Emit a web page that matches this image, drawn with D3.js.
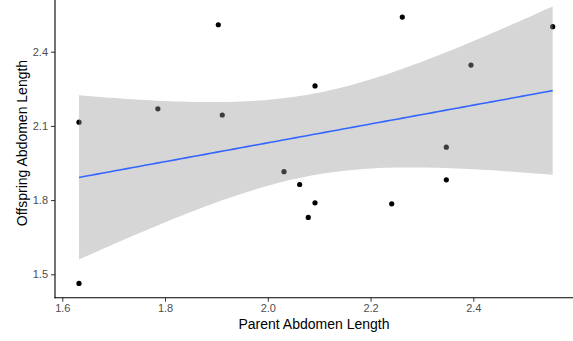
<!DOCTYPE html>
<html>
<head>
<meta charset="utf-8">
<script src="https://cdn.jsdelivr.net/npm/d3@7"></script>
<style>
  body { margin: 0; background: #fff; }
  text { font-family: "Liberation Sans", Arial, sans-serif; }
</style>
</head>
<body>
<div id="chart"></div>
<script>
// Width and height
var chart_width  = 573;
var chart_height = 341;

// data
var parent_length    = [1.6325, 1.786, 1.9037, 1.9114, 2.0919, 2.2618, 2.3955, 2.5545,
                        2.3475, 2.0315, 2.062, 2.0919, 2.0788, 2.2412, 2.3475, 1.6325];
var offspring_length = [2.115, 2.169, 2.509, 2.144, 2.2615, 2.540, 2.346, 2.501,
                        2.014, 1.915, 1.863, 1.789, 1.730, 1.785, 1.882, 1.463];
var x_ticks = [1.6, 1.8, 2.0, 2.2, 2.4];
var y_ticks = [1.5, 1.8, 2.1, 2.4];

var points = parent_length.map(function(d, i){
  return { x: d, y: offspring_length[i] };
});

// scales
var x = d3.scaleLinear().domain([1.6, 2.4]).range([62.3, 473.3]);
var y = d3.scaleLinear().domain([1.5, 2.4]).range([274.3, 51.7]);

var panel_left = 55, panel_bottom = 297.7;

// linear model + 95% confidence band (like geom_smooth(method = "lm"))
var n = points.length;
var mx = d3.mean(points, function(d){ return d.x; });
var my = d3.mean(points, function(d){ return d.y; });
var sxx = d3.sum(points, function(d){ return (d.x - mx) * (d.x - mx); });
var sxy = d3.sum(points, function(d){ return (d.x - mx) * (d.y - my); });
var slope = sxy / sxx;
var intercept = my - slope * mx;
var sse = d3.sum(points, function(d){
  var r = d.y - (intercept + slope * d.x);
  return r * r;
});
var s = Math.sqrt(sse / (n - 2));
var t_crit = 2.1448; // qt(0.975, 14)

var xmin = d3.min(parent_length), xmax = d3.max(parent_length);
var fit = d3.range(80).map(function(i){
  var xv = xmin + (xmax - xmin) * i / 79;
  var yv = intercept + slope * xv;
  var se = s * Math.sqrt(1 / n + (xv - mx) * (xv - mx) / sxx);
  return { x: xv, y: yv, lo: yv - t_crit * se, hi: yv + t_crit * se };
});

// Create SVG
var svg = d3.select("#chart")
  .append("svg")
  .attr("width", chart_width)
  .attr("height", chart_height);

// points
svg.selectAll("circle")
  .data(points)
  .enter()
  .append("circle")
  .attr("cx", function(d){ return x(d.x); })
  .attr("cy", function(d){ return y(d.y); })
  .attr("r", 2.6)
  .attr("fill", "#000");

// ribbon
var area = d3.area()
  .x(function(d){ return x(d.x); })
  .y0(function(d){ return y(d.lo); })
  .y1(function(d){ return y(d.hi); });

svg.append("path")
  .datum(fit)
  .attr("d", area)
  .attr("fill", "#999999")
  .attr("fill-opacity", 0.4);

// fitted line
var line = d3.line()
  .x(function(d){ return x(d.x); })
  .y(function(d){ return y(d.y); });

svg.append("path")
  .datum(fit)
  .attr("d", line)
  .attr("fill", "none")
  .attr("stroke", "#3366FF")
  .attr("stroke-width", 1.6);

// axes
var xAxis = svg.append("g")
  .attr("transform", "translate(0," + panel_bottom + ")")
  .call(d3.axisBottom(x).tickValues(x_ticks).tickFormat(d3.format(".1f")).tickSize(4).tickPadding(3));

var yAxis = svg.append("g")
  .attr("transform", "translate(" + panel_left + ",0)")
  .call(d3.axisLeft(y).tickValues(y_ticks).tickFormat(d3.format(".1f")).tickSize(4).tickPadding(3));

[xAxis, yAxis].forEach(function(g){
  g.select(".domain").remove();
  g.selectAll(".tick line").attr("stroke", "#333333");
  g.selectAll(".tick text")
    .attr("fill", "#4d4d4d")
    .style("font-size", "11px")
    .style("font-family", "'Liberation Sans', Arial, sans-serif");
});

// axis lines
svg.append("line")
  .attr("x1", panel_left).attr("x2", panel_left)
  .attr("y1", 0).attr("y2", panel_bottom + 0.5)
  .attr("stroke", "#000").attr("stroke-width", 1.1);
svg.append("line")
  .attr("x1", panel_left - 0.5).attr("x2", chart_width)
  .attr("y1", panel_bottom).attr("y2", panel_bottom)
  .attr("stroke", "#000").attr("stroke-width", 1.1);

// axis titles
svg.append("text")
  .attr("x", 314)
  .attr("y", 328.5)
  .attr("text-anchor", "middle")
  .style("font-size", "14px")
  .attr("fill", "#000")
  .text("Parent Abdomen Length");

svg.append("text")
  .attr("transform", "translate(27,143) rotate(-90)")
  .attr("text-anchor", "middle")
  .style("font-size", "14px")
  .attr("fill", "#000")
  .text("Offspring Abdomen Length");
</script>
</body>
</html>
